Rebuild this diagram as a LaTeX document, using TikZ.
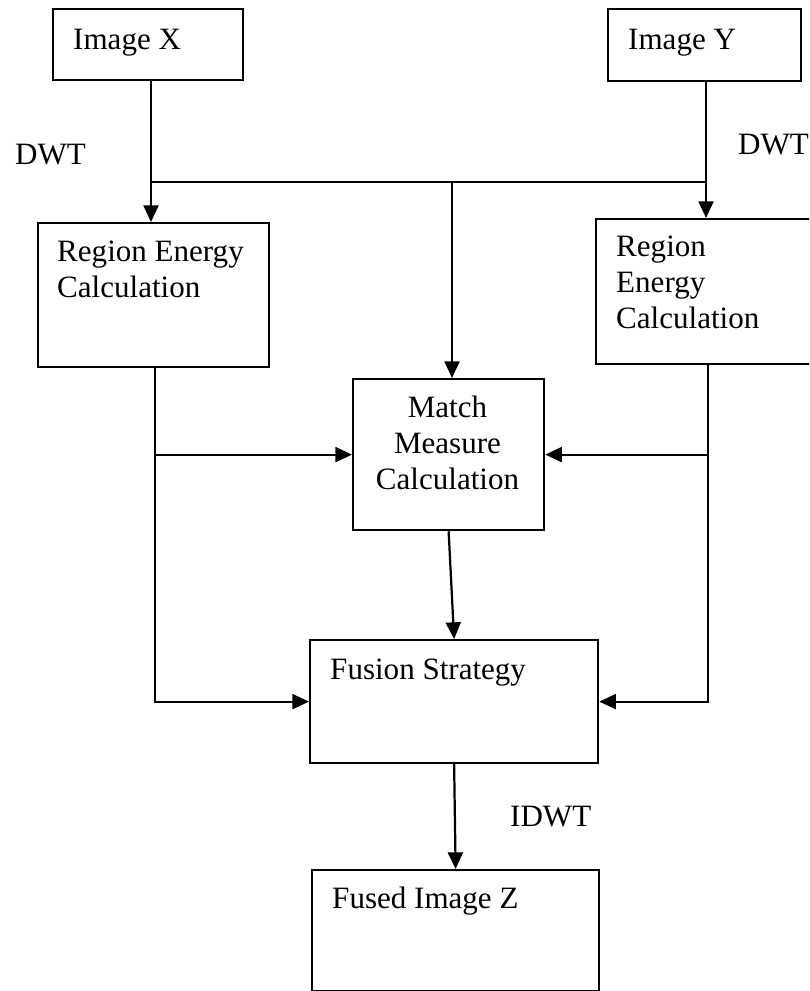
\documentclass[tikz,border=0pt]{standalone}
\usepackage{fontspec}
\setmainfont{Liberation Serif}
\usetikzlibrary{arrows.meta}
\begin{document}
\begin{tikzpicture}[x=0.03cm,y=-0.03cm,
  box/.style={draw, line width=1.9pt, rectangle, inner sep=0pt, anchor=north west},
  lbl/.style={font=\fontsize{26.5}{30.7}\selectfont, inner sep=0pt, anchor=base west, align=left},
  wire/.style={line width=1.9pt, line join=miter},
  flow/.style={wire, -{Triangle[length=0.5cm,width=0.45cm]}}]
  \useasboundingbox (0,0) rectangle (809,991);
  \clip (0,0) rectangle (809,991);

  % blocks
  \node[box, minimum width=5.7cm,  minimum height=2.13cm] (imgX)   at (52,8)    {};
  \node[box, minimum width=5.79cm, minimum height=2.16cm] (imgY)   at (607,8)   {};
  \node[box, minimum width=6.93cm, minimum height=4.32cm] (regL)   at (37,222)  {};
  \node[box, minimum width=7.05cm, minimum height=4.35cm] (regR)   at (595,218) {};
  \node[box, minimum width=5.73cm, minimum height=4.53cm] (match)  at (352,378) {};
  \node[box, minimum width=8.64cm, minimum height=3.69cm] (fusion) at (309,639) {};
  \node[box, minimum width=8.61cm, minimum height=3.63cm] (fused)  at (311,869) {};

  % block texts (multi-line texts are placed by the baseline of their last line)
  \node[lbl] (tX)  at (73,50)   {Image X};
  \node[lbl] (tY)  at (628,50)  {Image Y};
  \node[lbl] (tRL) at (57,297)  {Region Energy\\Calculation};
  \node[lbl] (tRR) at (616,328) {Region\\Energy\\Calculation};
  \node[lbl, align=center, anchor=base] (tM) at (447.5,489) {Match\\Measure\\Calculation};
  \node[lbl] (tF)  at (330,679) {Fusion Strategy};
  \node[lbl] (tZ)  at (332,908) {Fused Image Z};

  % transform labels
  \node[lbl] (dwtL) at (15,165)  {DWT};
  \node[lbl] (dwtR) at (738,155) {DWT};
  \node[lbl] (idwt) at (510,826) {IDWT};

  % junction points
  \coordinate (busL) at (151,182);
  \coordinate (busC) at (452,182);
  \coordinate (busR) at (706,182);
  \coordinate (legL) at (155,0);
  \coordinate (legR) at (708,0);

  % decomposition and shared bus
  \draw[flow] (imgX.south -| busL) -- (regL.north -| busL);
  \draw[flow] (imgY.south -| busR) -- (regR.north -| busR);
  \draw[wire] (busL) -- (busR);
  \draw[flow] (busC) -- (match.north -| busC);

  % energy feeds
  \draw[flow] (regL.south -| legL) |- (fusion.west);
  \draw[flow] (match.west -| legL) -- (match.west);
  \draw[flow] (regR.south -| legR) |- (fusion.east);
  \draw[flow] (match.east -| legR) -- (match.east);

  % fusion and reconstruction
  \draw[flow] (match.south) -- (fusion.north);
  \draw[flow] (fusion.south) -- (fused.north);
\end{tikzpicture}
\end{document}
